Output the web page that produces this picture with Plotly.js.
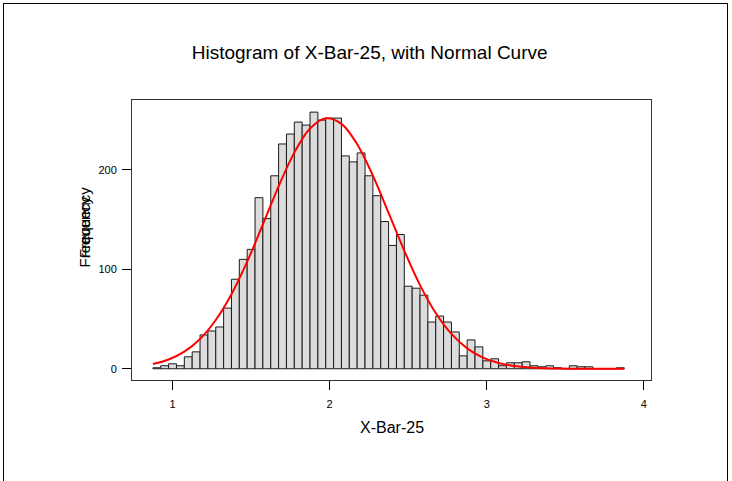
<!DOCTYPE html>
<html>
<head>
<meta charset="utf-8">
<script src="https://cdn.plot.ly/plotly-3.0.1.min.js"></script>
<style>
  html, body { margin: 0; padding: 0; background: #fff; }
  #chart { width: 732px; height: 481px; }
  #frame { position: absolute; left: 3px; top: 3px; width: 723px; height: 490px; border: 1px solid #000; pointer-events: none; }
</style>
</head>
<body>
<div id="chart"></div>
<div id="frame"></div>
<script>
// Histogram bins (X-Bar-25): first bin left edge and bin width
const binStart = 0.875;
const binWidth = 0.05;
// Frequencies per bin
const counts = [
  1, 3, 5, 3, 12, 17, 34, 38, 42, 61,
  90, 110, 120, 172, 151, 194, 226, 236, 248, 245,
  258, 250, 252, 252, 214, 208, 217, 194, 174, 148,
  124, 135, 83, 81, 74, 47, 53, 47, 37, 13,
  29, 22, 8, 10, 3, 6, 6, 7, 3, 2,
  3, 1, 0, 3, 2, 2, 0, 0, 0, 1
];
// Normal curve, points
const curveX = [0.875, 0.975, 1.075, 1.175, 1.275, 1.375, 1.475, 1.575, 1.675, 1.775,
  1.875, 1.975, 2.075, 2.175, 2.275, 2.375, 2.475, 2.575, 2.675, 2.775,
  2.875, 2.975, 3.075, 3.175, 3.275, 3.375, 3.475, 3.575, 3.675, 3.775, 3.875];
const curveY = [4.7, 9.3, 17.2, 30.0, 49.0, 75.0, 107.7, 145.1, 183.4, 217.3,
  241.5, 251.8, 246.2, 225.8, 194.2, 156.7, 118.6, 84.1, 56.0, 35.0,
  20.5, 11.2, 5.8, 2.8, 1.3, 0.5, 0.2, 0.1, 0.0, 0.0, 0.0];
const xTicks = [1, 2, 3, 4];
const yTicks = [0, 100, 200];

const binCenters = counts.map((_, i) => binStart + binWidth * (i + 0.5));

const bars = {
  type: 'bar',
  x: binCenters,
  y: counts,
  width: binWidth,
  marker: { color: '#dcdcdc', line: { color: '#1a1a1a', width: 1 } },
  hoverinfo: 'x+y',
  showlegend: false
};
const curve = {
  type: 'scatter',
  mode: 'lines',
  x: curveX,
  y: curveY,
  line: { color: '#ff0000', width: 2, shape: 'spline' },
  showlegend: false
};

const font = { family: 'Arial, "Liberation Sans", sans-serif', color: '#000' };

const layout = {
  width: 732,
  height: 481,
  margin: { l: 132, r: 81, t: 100, b: 101 },
  paper_bgcolor: '#fff',
  plot_bgcolor: '#fff',
  font: font,
  bargap: 0,
  title: {
    text: 'Histogram of X-Bar-25, with Normal Curve',
    font: { family: font.family, size: 19, color: '#000' },
    x: 0.505, xanchor: 'center', xref: 'container',
    y: 1 - 52 / 481, yanchor: 'middle', yref: 'container'
  },
  xaxis: {
    range: [0.742, 4.045],
    tickvals: xTicks,
    ticktext: xTicks.map(String),
    ticks: 'outside', ticklen: 9, tickwidth: 1, tickcolor: '#000',
    ticklabelstandoff: 5,
    showline: true, mirror: true, linecolor: '#333', linewidth: 1,
    showgrid: false, zeroline: false,
    tickfont: { family: font.family, size: 11, color: '#000' }
  },
  yaxis: {
    range: [-11.3, 270.2],
    tickvals: yTicks,
    ticktext: yTicks.map(String),
    ticks: 'outside', ticklen: 9, tickwidth: 1, tickcolor: '#000',
    ticklabelstandoff: 3,
    showline: true, mirror: true, linecolor: '#333', linewidth: 1,
    showgrid: false, zeroline: false,
    tickfont: { family: font.family, size: 11, color: '#000' }
  },
  annotations: [
    { text: 'X-Bar-25', xref: 'paper', yref: 'paper', x: 0.5, y: (379.5 - 427) / 280,
      xanchor: 'center', yanchor: 'middle', showarrow: false,
      font: { family: font.family, size: 16, color: '#000' } },
    { text: 'Frequency', xref: 'paper', yref: 'paper', x: (84 - 132) / 519, y: (379.5 - 232) / 280,
      xanchor: 'center', yanchor: 'middle', showarrow: false, textangle: -90,
      font: { family: font.family, size: 15, color: '#000' } },
    { text: 'Frequency', xref: 'paper', yref: 'paper', x: (84.5 - 132) / 519, y: (379.5 - 222) / 280,
      xanchor: 'center', yanchor: 'middle', showarrow: false, textangle: -90,
      font: { family: font.family, size: 15, color: '#000' } }
  ]
};

Plotly.newPlot('chart', [bars, curve], layout, { displayModeBar: false, staticPlot: true });
</script>
</body>
</html>
